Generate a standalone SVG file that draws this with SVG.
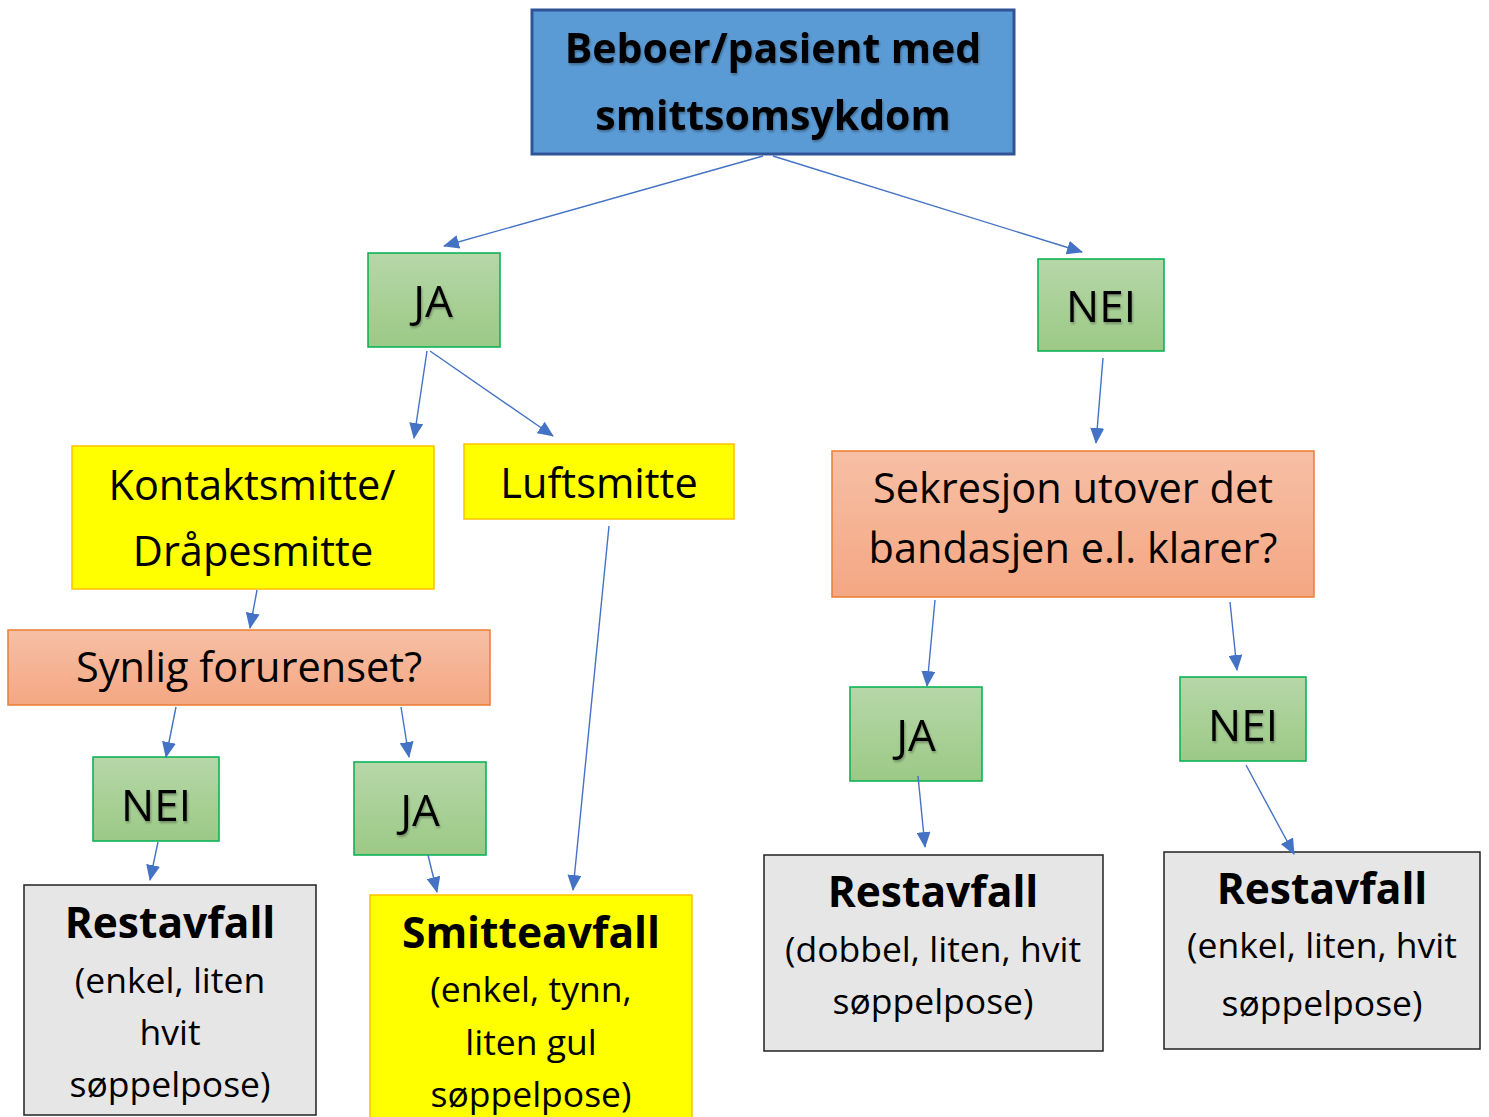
<svg xmlns="http://www.w3.org/2000/svg" width="1489" height="1117" viewBox="0 0 1489 1117">
<defs>
<linearGradient id="gGreen" x1="0" y1="0" x2="0" y2="1"><stop offset="0" stop-color="#b6d7a8"/><stop offset="1" stop-color="#9cc986"/></linearGradient>
<linearGradient id="gSalmon" x1="0" y1="0" x2="0" y2="1"><stop offset="0" stop-color="#f7bfa5"/><stop offset="1" stop-color="#f4a783"/></linearGradient>
<marker id="arr" markerUnits="userSpaceOnUse" markerWidth="16" markerHeight="14" refX="15" refY="7" orient="auto"><path d="M0,0 L16,7 L0,14 Z" fill="#4472c4"/></marker>
<filter id="sh" x="-10%" y="-10%" width="120%" height="130%"><feDropShadow dx="1" dy="2" stdDeviation="1.2" flood-color="#000" flood-opacity="0.3"/></filter>
</defs>
<style>
text{font-family:"Open Sans","Noto Sans",sans-serif;fill:#000;text-anchor:middle}
.big{font-size:44px}
.title{font-size:41px;font-weight:bold}
.mid{font-size:41.5px}
.head{font-size:42.5px;font-weight:bold}
.small{font-size:35.5px}
.green{fill:url(#gGreen);stroke:#00b050;stroke-width:1.5}
.yellow{fill:#ffff00;stroke:#ffc000;stroke-width:1.5}
.salmon{fill:url(#gSalmon);stroke:#ed7d31;stroke-width:1.5}
.grey{fill:#e7e6e6;stroke:#222;stroke-width:1.5}
.conn line{stroke:#4472c4;stroke-width:1.4;marker-end:url(#arr)}
</style>
<g id="top">
<rect x="532" y="10" width="482" height="144" fill="#5b9bd5" stroke="#2f5597" stroke-width="3"/>
<text class="title" x="773" y="63" filter="url(#sh)">Beboer/pasient med</text>
<text class="title" x="773" y="130" filter="url(#sh)">smittsomsykdom</text>
</g>
<g id="ja1"><rect class="green" x="368" y="253" width="132" height="94"/><text class="big" x="433" y="317" filter="url(#sh)">JA</text></g>
<g id="nei1"><rect class="green" x="1038" y="259" width="126" height="92"/><text class="big" x="1101" y="322" filter="url(#sh)">NEI</text></g>
<g id="kontakt"><rect class="yellow" x="72" y="446" width="362" height="143"/><text class="mid" x="252" y="500">Kontaktsmitte/</text><text class="mid" x="253" y="566">Dråpesmitte</text></g>
<g id="luft"><rect class="yellow" x="464" y="444" width="270" height="75"/><text class="mid" x="599" y="498">Luftsmitte</text></g>
<g id="sekresjon"><rect class="salmon" x="832" y="451" width="482" height="146"/><text class="mid" x="1073" y="503">Sekresjon utover det</text><text class="mid" x="1073" y="563">bandasjen e.l. klarer?</text></g>
<g id="synlig"><rect class="salmon" x="8" y="630" width="482" height="75"/><text class="mid" x="249" y="682">Synlig forurenset?</text></g>
<g id="nei2"><rect class="green" x="93" y="757" width="126" height="84"/><text class="big" x="156" y="821" filter="url(#sh)">NEI</text></g>
<g id="ja2"><rect class="green" x="354" y="762" width="132" height="93"/><text class="big" x="420" y="826" filter="url(#sh)">JA</text></g>
<g id="ja3"><rect class="green" x="850" y="687" width="132" height="94"/><text class="big" x="916" y="751" filter="url(#sh)">JA</text></g>
<g id="nei3"><rect class="green" x="1180" y="677" width="126" height="84"/><text class="big" x="1243" y="741" filter="url(#sh)">NEI</text></g>
<g id="rest1"><rect class="grey" x="24" y="885" width="292" height="230"/><text class="head" x="170" y="938">Restavfall</text><text class="small" x="170" y="993">(enkel, liten</text><text class="small" x="170" y="1045">hvit</text><text class="small" x="170" y="1097">søppelpose)</text></g>
<g id="smitte"><rect class="yellow" x="370" y="895" width="322" height="230"/><text class="head" x="531" y="948">Smitteavfall</text><text class="small" x="531" y="1002">(enkel, tynn,</text><text class="small" x="531" y="1055">liten gul</text><text class="small" x="531" y="1107">søppelpose)</text></g>
<g id="rest2"><rect class="grey" x="764" y="855" width="339" height="196"/><text class="head" x="933" y="907">Restavfall</text><text class="small" x="933" y="962">(dobbel, liten, hvit</text><text class="small" x="933" y="1014">søppelpose)</text></g>
<g id="rest3"><rect class="grey" x="1164" y="852" width="316" height="197"/><text class="head" x="1322" y="904">Restavfall</text><text class="small" x="1322" y="958">(enkel, liten, hvit</text><text class="small" x="1322" y="1016">søppelpose)</text></g>
<g class="conn">
<line x1="763" y1="156" x2="444" y2="246"/>
<line x1="773" y1="156" x2="1082" y2="252"/>
<line x1="427" y1="351" x2="414" y2="438"/>
<line x1="430" y1="351" x2="553" y2="436"/>
<line x1="257" y1="590" x2="250" y2="628"/>
<line x1="609" y1="526" x2="573" y2="890"/>
<line x1="176" y1="707" x2="166" y2="757"/>
<line x1="401" y1="707" x2="409" y2="757"/>
<line x1="158" y1="842" x2="150" y2="880"/>
<line x1="428" y1="855" x2="437" y2="892"/>
<line x1="1103" y1="358" x2="1096" y2="443"/>
<line x1="935" y1="600" x2="927" y2="686"/>
<line x1="1230" y1="602" x2="1237" y2="670"/>
<line x1="918" y1="776" x2="925" y2="847"/>
<line x1="1246" y1="765" x2="1294" y2="854"/>
</g>
</svg>
